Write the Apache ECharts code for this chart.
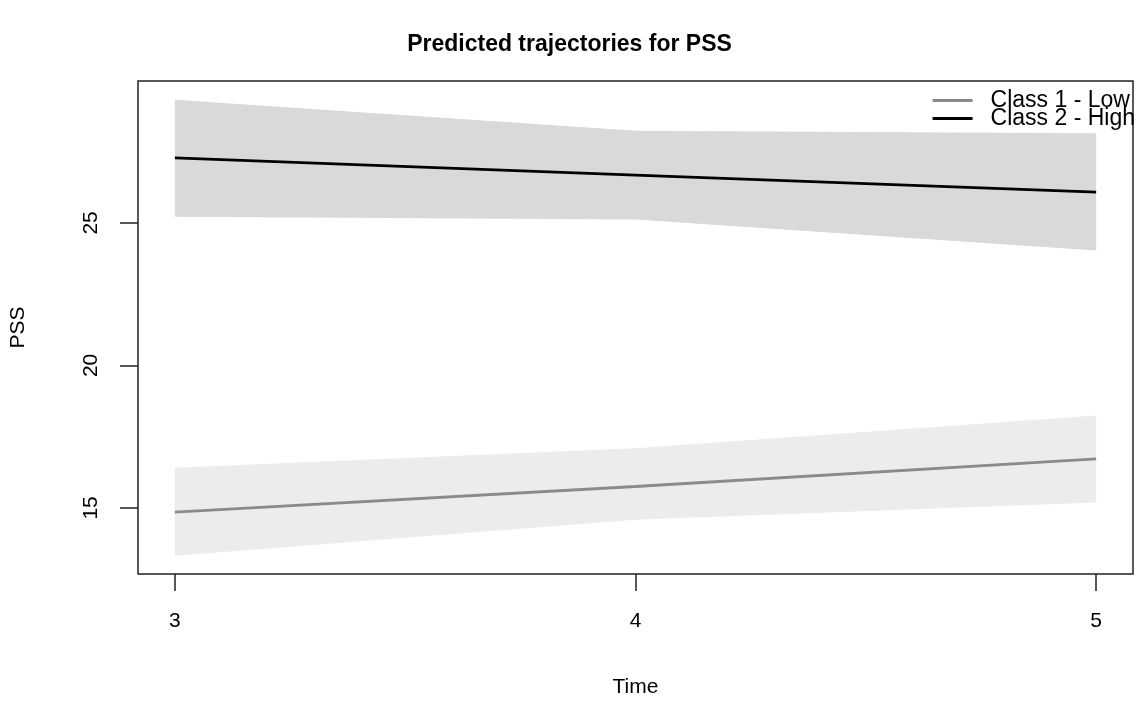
<!DOCTYPE html>
<html>
<head>
<meta charset="utf-8">
<script src="https://cdn.jsdelivr.net/npm/echarts@6/dist/echarts.min.js"></script>
<style>html,body{margin:0;padding:0;background:#fff;}#c{width:1139px;height:701px;}</style>
</head>
<body>
<div id="c"></div>
<script>
var times = [3, 4, 5];
var xTicks = [3, 4, 5];
var yTicks = [15, 20, 25];
var lowMean = [14.85, 15.75, 16.72];
var lowUpper = [16.41, 17.09, 18.24];
var lowLower = [13.32, 14.58, 15.19];
var highMean = [27.28, 26.68, 26.08];
var highUpper = [29.32, 28.23, 28.15];
var highLower = [25.22, 25.12, 24.03];

function pairs(ys) { return times.map(function (t, i) { return [t, ys[i]]; }); }
function bandRows(lo, hi) { return times.map(function (t, i) { return [t, lo[i], hi[i]]; }); }

function bandSeries(name, lo, hi, color) {
  var rows = bandRows(lo, hi);
  return {
    name: name, type: 'custom', silent: true, z: 1,
    data: rows,
    encode: { x: 0, y: [1, 2] },
    renderItem: function (params, api) {
      if (params.dataIndex !== 0) return null;
      var top = [], bot = [];
      rows.forEach(function (r) {
        top.push(api.coord([r[0], r[2]]));
        bot.push(api.coord([r[0], r[1]]));
      });
      var pts = top.concat(bot.reverse());
      return { type: 'polygon', shape: { points: pts }, style: { fill: color, stroke: null } };
    }
  };
}

var FONT = 'Liberation Sans, Arial, Helvetica, sans-serif';
var chart = echarts.init(document.getElementById('c'), null, { renderer: 'canvas' });
chart.setOption({
  animation: false,
  backgroundColor: '#fff',
  title: {
    text: 'Predicted trajectories for PSS',
    left: 'center', top: 28,
    textStyle: { fontFamily: FONT, fontWeight: 'bold', fontSize: 23, color: '#000' }
  },
  legend: {
    orient: 'vertical', right: -1, top: 84,
    icon: 'rect', itemWidth: 40, itemHeight: 3, itemGap: -5,
    data: ['Class 1 - Low', 'Class 2 - High'],
    textStyle: { fontFamily: FONT, fontSize: 23, color: '#000', lineHeight: 22, padding: [0, 0, 0, 13] }
  },
  grid: { left: 138, right: 6, top: 81, bottom: 127, outerBoundsMode: 'none', show: true, borderColor: '#222', borderWidth: 1.5, backgroundColor: 'transparent' },
  xAxis: {
    type: 'value', min: 2.92, max: 5.08,
    name: 'Time', nameLocation: 'middle', nameGap: 103,
    nameTextStyle: { fontFamily: FONT, fontSize: 21, color: '#000' },
    axisLine: { show: false },
    splitLine: { show: false },
    axisTick: { show: true, customValues: xTicks, length: 17, lineStyle: { color: '#222', width: 1.5 } },
    axisLabel: { customValues: xTicks, margin: 37, fontFamily: FONT, fontSize: 21, color: '#000' }
  },
  yAxis: {
    type: 'value', min: 12.68, max: 29.98,
    name: 'PSS', nameLocation: 'middle', nameGap: 109, nameRotate: 90,
    nameTextStyle: { fontFamily: FONT, fontSize: 21, color: '#000' },
    axisLine: { show: false },
    splitLine: { show: false },
    axisTick: { show: true, customValues: yTicks, length: 18, lineStyle: { color: '#222', width: 1.5 } },
    axisLabel: { customValues: yTicks, rotate: 90, margin: 36, fontFamily: FONT, fontSize: 21, color: '#000' }
  },
  series: [
    bandSeries('highBand', highLower, highUpper, '#d9d9d9'),
    bandSeries('lowBand', lowLower, lowUpper, '#ececec'),
    { name: 'Class 1 - Low', type: 'line', data: pairs(lowMean), symbol: 'none', color: '#8a8a8a', lineStyle: { color: '#8a8a8a', width: 2.8 }, z: 3 },
    { name: 'Class 2 - High', type: 'line', data: pairs(highMean), symbol: 'none', color: '#000', lineStyle: { color: '#000', width: 2.8 }, z: 3 }
  ]
});
</script>
</body>
</html>
